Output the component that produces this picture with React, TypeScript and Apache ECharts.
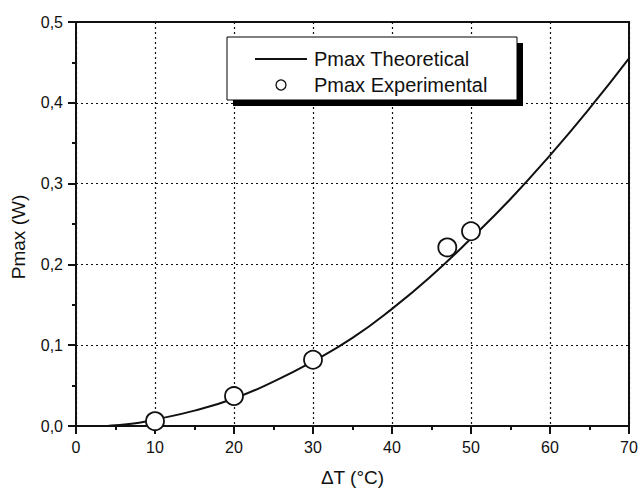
import React, { useEffect, useRef } from "react";
import * as echarts from "echarts";

const xTicks = [0, 10, 20, 30, 40, 50, 60, 70];
const yTicks = [0, 0.1, 0.2, 0.3, 0.4, 0.5];

const theoDT = [4, 5, 8, 10, 15, 20, 25, 30, 35, 40, 45, 50, 55, 60, 65, 70];
const theoP = [0, 0.0008, 0.004, 0.008, 0.019, 0.034, 0.055, 0.08, 0.109, 0.145, 0.186, 0.232, 0.281, 0.335, 0.393, 0.455];

const expDT = [10, 20, 30, 47, 50];
const expP = [0.006, 0.037, 0.082, 0.221, 0.241];

const seriesNames = ["Pmax Theoretical", "Pmax Experimental"];
const xTitle = "ΔT (°C)";
const yTitle = "Pmax (W)";

const FONT = "Liberation Sans, Arial, sans-serif";
const INK = "#111";

export default function App() {
  const ref = useRef<HTMLDivElement>(null);
  useEffect(() => {
    if (!ref.current) return;
    const chart = echarts.init(ref.current, undefined, { renderer: "svg" });
    const axisCommon = {
      axisLine: { show: true, onZero: false, lineStyle: { color: INK, width: 2 } },
      axisTick: { show: true, inside: false, length: 8, lineStyle: { color: INK, width: 2 } },
      minorTick: { show: true, splitNumber: 2, length: 4, lineStyle: { color: INK, width: 2 } },
      splitLine: { show: true, lineStyle: { color: INK, width: 1.2, type: [2, 3] } },
    };
    chart.setOption({
      animation: false,
      backgroundColor: "#fff",
      grid: {
        left: 76,
        right: 9,
        top: 22,
        bottom: 62,
        show: true,
        borderColor: INK,
        borderWidth: 2,
        backgroundColor: "transparent",
        outerBoundsMode: "none",
        containLabel: false,
      },
      xAxis: {
        type: "value",
        min: xTicks[0],
        max: xTicks[xTicks.length - 1],
        interval: 10,
        name: xTitle,
        nameLocation: "middle",
        nameGap: 42,
        nameTextStyle: { fontFamily: FONT, fontSize: 19, color: INK },
        ...axisCommon,
        axisLabel: { fontFamily: FONT, fontSize: 16, color: INK, margin: 13 },
      },
      yAxis: {
        type: "value",
        min: yTicks[0],
        max: yTicks[yTicks.length - 1],
        interval: 0.1,
        name: yTitle,
        nameLocation: "middle",
        nameGap: 48,
        nameTextStyle: { fontFamily: FONT, fontSize: 19, color: INK, padding: [0, 26, 0, 0] },
        ...axisCommon,
        axisLabel: {
          fontFamily: FONT,
          fontSize: 16,
          color: INK,
          margin: 13,
          formatter: (v: number) => v.toFixed(1).replace(".", ","),
        },
      },
      graphic: [
        { type: "rect", shape: { x: 233, y: 43, width: 290, height: 63 }, style: { fill: "#000" }, z: 10 },
        { type: "rect", shape: { x: 227, y: 37, width: 290, height: 63 }, style: { fill: "#fff", stroke: "#000", lineWidth: 1 }, z: 11 },
      ],
      legend: {
        show: true,
        orient: "vertical",
        left: 255,
        top: 49,
        z: 20,
        itemWidth: 52,
        itemHeight: 10,
        itemGap: 6,
        padding: 0,
        symbolKeepAspect: true,
        textStyle: { fontFamily: FONT, fontSize: 20, color: INK, padding: [0, 0, 0, 2] },
        data: [
          { name: seriesNames[0], icon: "path://M0,0H52V2H0Z", itemStyle: { color: INK, borderWidth: 0 } },
          { name: seriesNames[1], icon: "circle", itemStyle: { color: "#fff", borderColor: INK, borderWidth: 1.3 } },
        ],
      },
      series: [
        {
          name: seriesNames[0],
          type: "line",
          smooth: true,
          symbol: "none",
          lineStyle: { color: INK, width: 2 },
          itemStyle: { color: INK },
          data: theoDT.map((x, i) => [x, theoP[i]]),
          z: 3,
        },
        {
          name: seriesNames[1],
          type: "scatter",
          symbol: "circle",
          symbolSize: 18,
          itemStyle: { color: "#fff", borderColor: INK, borderWidth: 1.8, opacity: 1 },
          data: expDT.map((x, i) => [x, expP[i]]),
          z: 4,
        },
      ],
    });
    return () => chart.dispose();
  }, []);
  return <div ref={ref} style={{ width: 638, height: 488, position: "absolute", left: 0, top: 0 }} />;
}
